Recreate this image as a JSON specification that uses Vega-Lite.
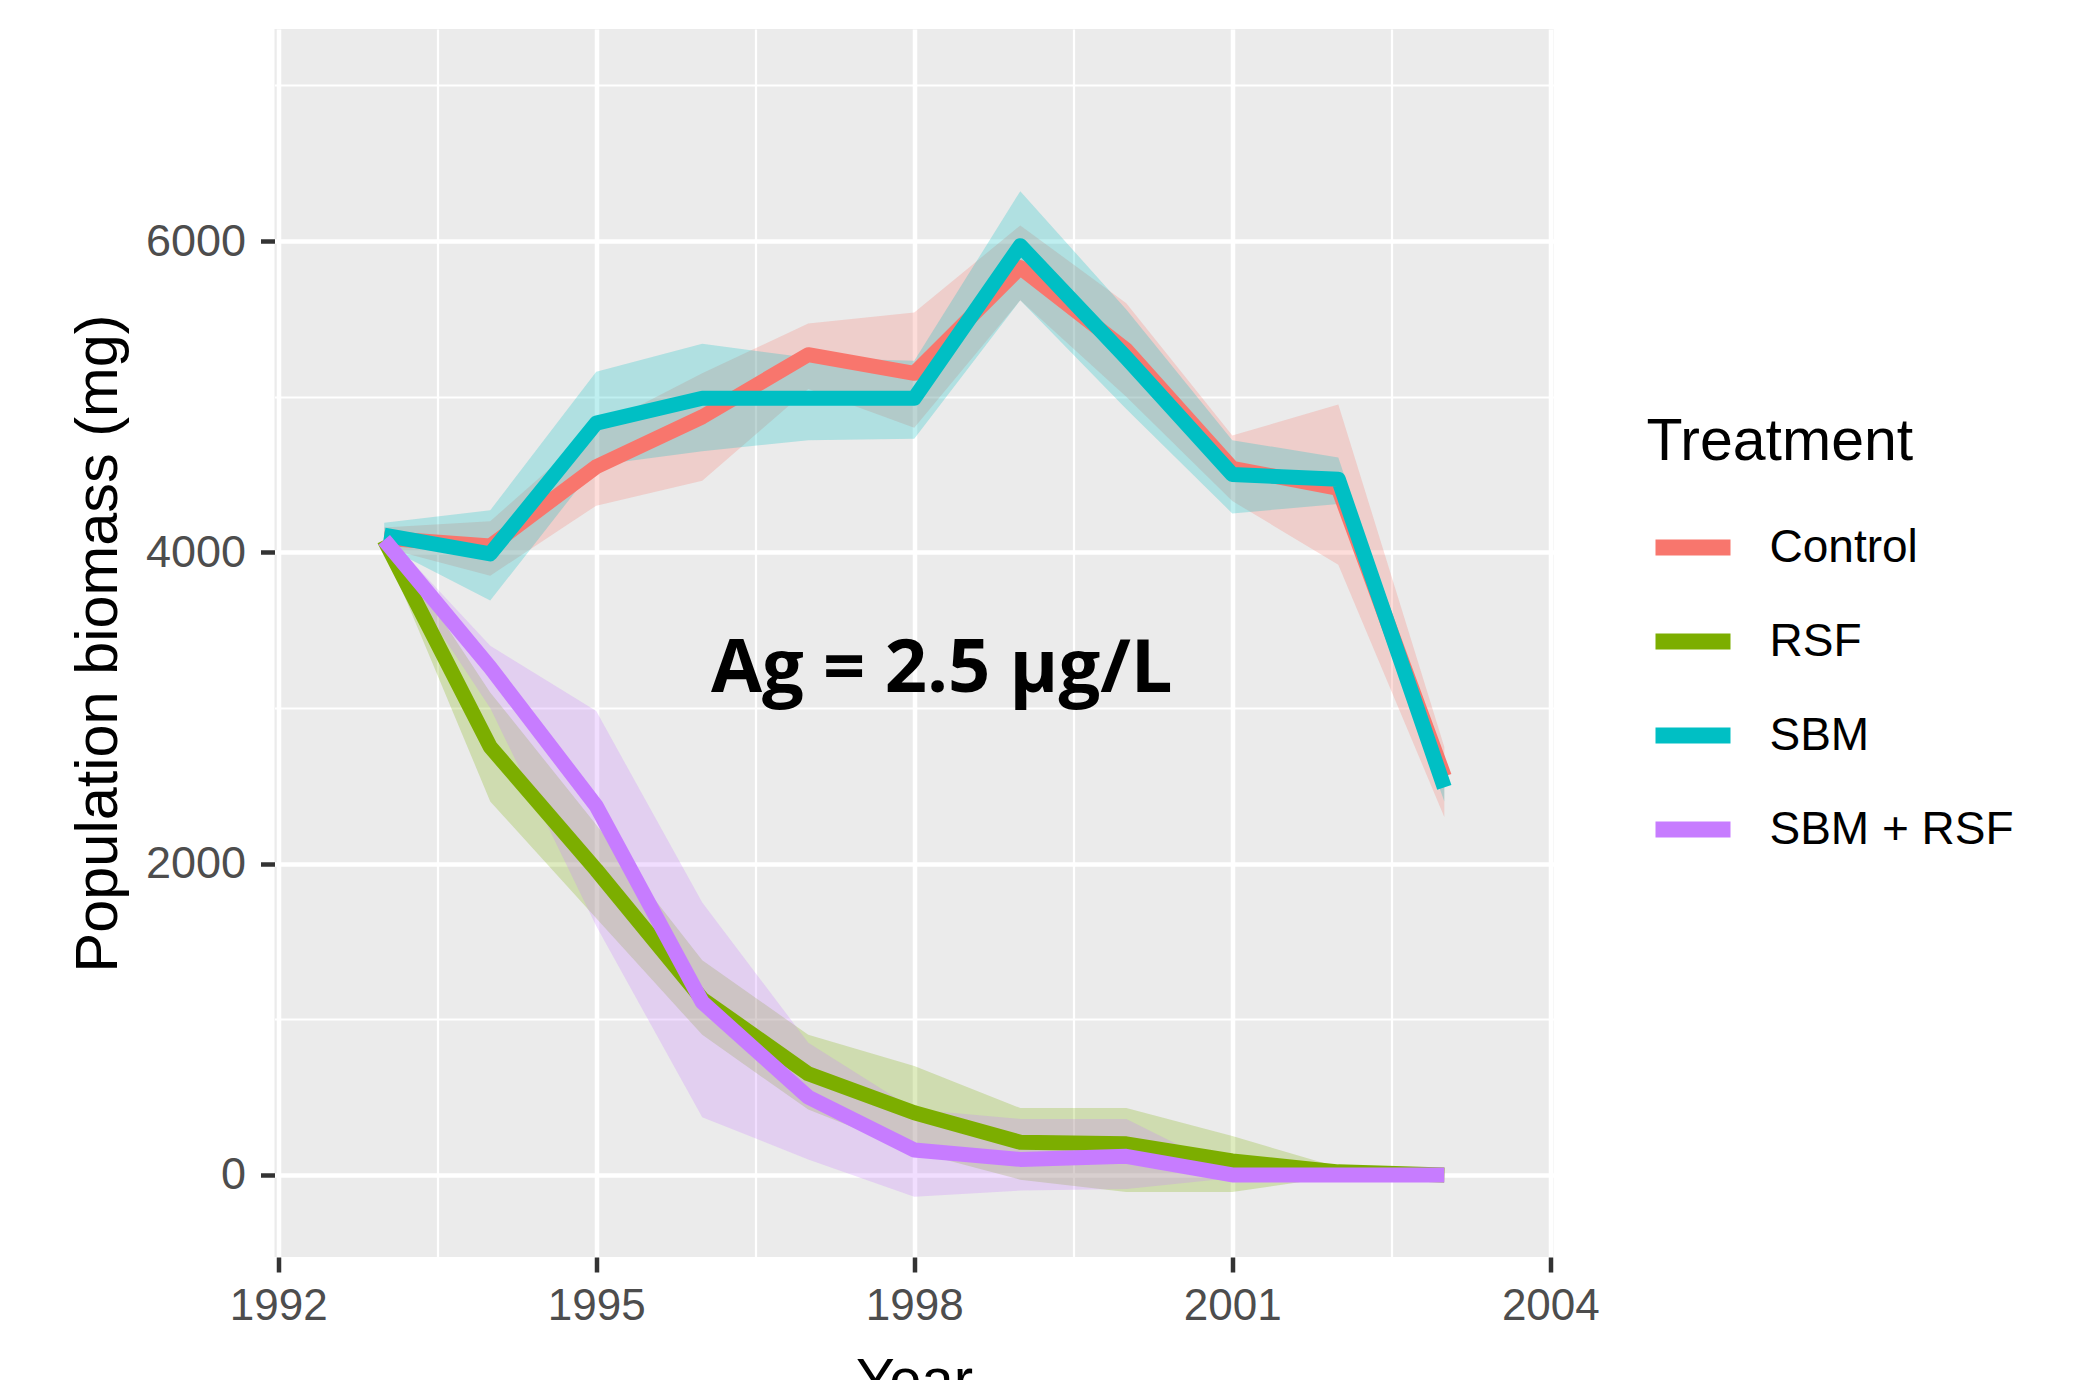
{
  "$schema": "https://vega.github.io/schema/vega-lite/v6.json",
  "width": 1279,
  "height": 1228,
  "autosize": {"type": "none"},
  "padding": {"left": 274.5, "top": 29, "right": 545.5, "bottom": 123},
  "background": "white",
  "config": {
    "view": {"fill": "#EBEBEB", "stroke": null},
    "font": "Liberation Sans"
  },
  "datasets": {
    "series": [
      {"Year": 1993, "Treatment": "Control", "mean": 4090, "lo": 4030, "hi": 4160},
      {"Year": 1994, "Treatment": "Control", "mean": 4040, "lo": 3850, "hi": 4200},
      {"Year": 1995, "Treatment": "Control", "mean": 4550, "lo": 4300, "hi": 4800},
      {"Year": 1996, "Treatment": "Control", "mean": 4870, "lo": 4460, "hi": 5150},
      {"Year": 1997, "Treatment": "Control", "mean": 5270, "lo": 5050, "hi": 5470},
      {"Year": 1998, "Treatment": "Control", "mean": 5150, "lo": 4800, "hi": 5540},
      {"Year": 1999, "Treatment": "Control", "mean": 5830, "lo": 5620, "hi": 6100},
      {"Year": 2000, "Treatment": "Control", "mean": 5300, "lo": 5000, "hi": 5600},
      {"Year": 2001, "Treatment": "Control", "mean": 4540, "lo": 4330, "hi": 4750},
      {"Year": 2002, "Treatment": "Control", "mean": 4410, "lo": 3920, "hi": 4950},
      {"Year": 2003, "Treatment": "Control", "mean": 2560, "lo": 2300, "hi": 2750},
      {"Year": 1993, "Treatment": "RSF", "mean": 4080, "lo": 4030, "hi": 4130},
      {"Year": 1994, "Treatment": "RSF", "mean": 2750, "lo": 2400, "hi": 3100},
      {"Year": 1995, "Treatment": "RSF", "mean": 1960, "lo": 1650, "hi": 2250},
      {"Year": 1996, "Treatment": "RSF", "mean": 1130, "lo": 900, "hi": 1380},
      {"Year": 1997, "Treatment": "RSF", "mean": 650, "lo": 420, "hi": 900},
      {"Year": 1998, "Treatment": "RSF", "mean": 400, "lo": 150, "hi": 700},
      {"Year": 1999, "Treatment": "RSF", "mean": 210, "lo": -30, "hi": 430},
      {"Year": 2000, "Treatment": "RSF", "mean": 200, "lo": -110, "hi": 430},
      {"Year": 2001, "Treatment": "RSF", "mean": 90, "lo": -110, "hi": 250},
      {"Year": 2002, "Treatment": "RSF", "mean": 20, "lo": -10, "hi": 50},
      {"Year": 2003, "Treatment": "RSF", "mean": 0, "lo": 0, "hi": 0},
      {"Year": 1993, "Treatment": "SBM", "mean": 4110, "lo": 4040, "hi": 4190},
      {"Year": 1994, "Treatment": "SBM", "mean": 3990, "lo": 3690, "hi": 4270},
      {"Year": 1995, "Treatment": "SBM", "mean": 4830, "lo": 4560, "hi": 5160},
      {"Year": 1996, "Treatment": "SBM", "mean": 4990, "lo": 4650, "hi": 5340},
      {"Year": 1997, "Treatment": "SBM", "mean": 4990, "lo": 4720, "hi": 5250},
      {"Year": 1998, "Treatment": "SBM", "mean": 4990, "lo": 4730, "hi": 5230},
      {"Year": 1999, "Treatment": "SBM", "mean": 5970, "lo": 5620, "hi": 6320},
      {"Year": 2000, "Treatment": "SBM", "mean": 5250, "lo": 4920, "hi": 5560},
      {"Year": 2001, "Treatment": "SBM", "mean": 4500, "lo": 4250, "hi": 4720},
      {"Year": 2002, "Treatment": "SBM", "mean": 4470, "lo": 4310, "hi": 4610},
      {"Year": 2003, "Treatment": "SBM", "mean": 2490, "lo": 2400, "hi": 2580},
      {"Year": 1993, "Treatment": "SBM + RSF", "mean": 4080, "lo": 4030, "hi": 4130},
      {"Year": 1994, "Treatment": "SBM + RSF", "mean": 3260, "lo": 3000, "hi": 3400},
      {"Year": 1995, "Treatment": "SBM + RSF", "mean": 2370, "lo": 1600, "hi": 2980},
      {"Year": 1996, "Treatment": "SBM + RSF", "mean": 1110, "lo": 370, "hi": 1750},
      {"Year": 1997, "Treatment": "SBM + RSF", "mean": 500, "lo": 100, "hi": 850},
      {"Year": 1998, "Treatment": "SBM + RSF", "mean": 160, "lo": -140, "hi": 420},
      {"Year": 1999, "Treatment": "SBM + RSF", "mean": 100, "lo": -100, "hi": 360},
      {"Year": 2000, "Treatment": "SBM + RSF", "mean": 120, "lo": -90, "hi": 360},
      {"Year": 2001, "Treatment": "SBM + RSF", "mean": 0, "lo": -20, "hi": 20},
      {"Year": 2002, "Treatment": "SBM + RSF", "mean": 0, "lo": 0, "hi": 0},
      {"Year": 2003, "Treatment": "SBM + RSF", "mean": 0, "lo": 0, "hi": 0}
    ],
    "note": [
      {"Year": 1998.26, "mean": 3104, "label": "Ag = 2.5 µg/L"}
    ]
  },
  "data": {"name": "series"},
  "encoding": {
    "x": {
      "field": "Year", "type": "quantitative",
      "scale": {"domain": [1991.965, 2004.03], "nice": false, "zero": false},
      "axis": {
        "title": "Year",
        "values": [1992, 1993.5, 1995, 1996.5, 1998, 1999.5, 2001, 2002.5, 2004],
        "format": "d",
        "labelExpr": "datum.value % 3 === 0 ? datum.label : ''",
        "labelFlush": false,
        "labelOverlap": false,
        "domain": false,
        "grid": true,
        "gridColor": "white",
        "gridOpacity": 1,
        "gridWidth": {"condition": {"test": "datum.value % 3 === 0", "value": 4.5}, "value": 2.2},
        "tickOpacity": {"condition": {"test": "datum.value % 3 === 0", "value": 1}, "value": 0},
        "tickColor": "#333333",
        "tickWidth": 4.5,
        "tickSize": 15,
        "labelPadding": 12,
        "labelFontSize": 44,
        "labelColor": "#4D4D4D",
        "labelFont": "Liberation Sans",
        "titleFont": "Liberation Sans",
        "titleFontSize": 58,
        "titleFontWeight": "normal",
        "titleColor": "black",
        "titlePadding": 24
      }
    },
    "y": {
      "field": "mean", "type": "quantitative",
      "scale": {"domain": [-527, 7362], "nice": false, "zero": false},
      "axis": {
        "title": "Population biomass (mg)",
        "values": [0, 1000, 2000, 3000, 4000, 5000, 6000, 7000],
        "format": "d",
        "labelExpr": "datum.value % 2000 === 0 ? datum.label : ''",
        "labelOverlap": false,
        "domain": false,
        "grid": true,
        "gridColor": "white",
        "gridOpacity": 1,
        "gridWidth": {"condition": {"test": "datum.value % 2000 === 0", "value": 4.5}, "value": 2.2},
        "tickOpacity": {"condition": {"test": "datum.value % 2000 === 0", "value": 1}, "value": 0},
        "tickColor": "#333333",
        "tickWidth": 4.5,
        "tickSize": 14,
        "labelPadding": 15,
        "labelFontSize": 45,
        "labelColor": "#4D4D4D",
        "labelFont": "Liberation Sans",
        "titleFont": "Liberation Sans",
        "titleFontSize": 59.5,
        "titleFontWeight": "normal",
        "titleColor": "black",
        "titlePadding": 17
      }
    },
    "color": {
      "field": "Treatment", "type": "nominal",
      "scale": {"domain": ["Control", "RSF", "SBM", "SBM + RSF"], "range": ["#F8766D", "#7CAE00", "#00BFC4", "#C77CFF"]},
      "legend": {
        "orient": "none",
        "legendX": 1372,
        "legendY": 384,
        "title": "Treatment",
        "titleFont": "Liberation Sans",
        "titleFontSize": 59,
        "titleFontWeight": "normal",
        "titleColor": "black",
        "titlePadding": 30,
        "titleLimit": 0,
        "labelFont": "Liberation Sans",
        "labelFontSize": 46,
        "labelColor": "black",
        "labelOffset": 31,
        "labelLimit": 0,
        "symbolType": "stroke",
        "symbolSize": 5625,
        "symbolStrokeWidth": 16,
        "symbolOffset": 1,
        "symbolOpacity": 1,
        "symbolFillColor": "transparent",
        "rowPadding": 16,
        "padding": 0
      }
    }
  },
  "layer": [
    {
      "mark": {"type": "area", "fillOpacity": 0.25},
      "encoding": {
        "y": {"field": "lo", "type": "quantitative"},
        "y2": {"field": "hi"}
      }
    },
    {
      "mark": {"type": "line", "strokeWidth": 15, "strokeCap": "butt", "strokeJoin": "round"}
    },
    {
      "data": {"name": "note"},
      "mark": {"type": "text", "font": "Open Sans", "fontWeight": "bold", "fontSize": 74, "align": "center", "baseline": "alphabetic"},
      "encoding": {
        "color": {"value": "black"},
        "text": {"field": "label", "type": "nominal"}
      }
    }
  ]
}
